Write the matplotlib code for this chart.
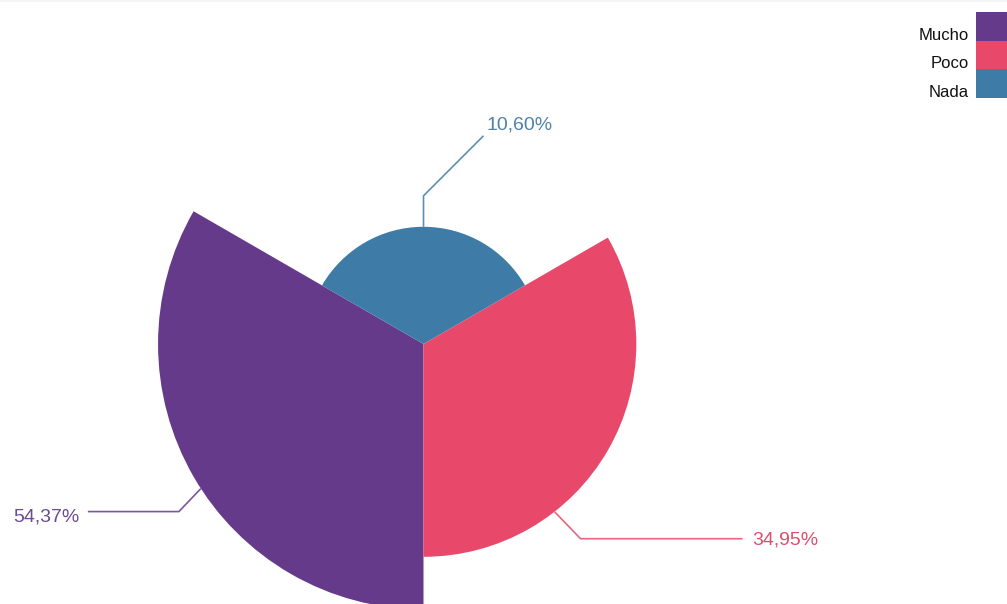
import numpy as np
import matplotlib
matplotlib.use("Agg")
import matplotlib.pyplot as plt
from matplotlib.patches import Wedge, Rectangle

# Data
categories = ["Mucho", "Poco", "Nada"]
values = [54.37, 34.95, 10.60]
labels = ["54,37%", "34,95%", "10,60%"]
colors = ["#663a8b", "#e8496a", "#3e7ba7"]
text_colors = ["#6a4a90", "#d9506e", "#4f82aa"]

plt.rcParams["font.family"] = ["Liberation Sans", "DejaVu Sans"]

W, H = 1007, 604
fig = plt.figure(figsize=(W / 100, H / 100), dpi=100)
ax = fig.add_axes([0, 0, 1, 1])
ax.set_xlim(0, W)
ax.set_ylim(0, H)
ax.set_aspect("equal")
ax.axis("off")

# Rose chart: equal angles, area proportional to value
cx, cy = 423.5, H - 344
k = 36.0
# compass-style sector starts (clockwise from north), each sector spans 120 degrees
starts = {"Nada": -60, "Poco": 60, "Mucho": 180}
span = 360 / len(values)

def to_math(compass):
    return 90 - compass

for cat, v, col in zip(categories, values, colors):
    r = k * np.sqrt(v)
    a0 = starts[cat]
    a1 = a0 + span
    ax.add_patch(Wedge((cx, cy), r, to_math(a1), to_math(a0),
                       facecolor=col, edgecolor="none", zorder=2))

# Label leader lines: anchor angle on the arc, elbow and end offsets,
# text alignment and baseline offset from the line end
leader = {
    "Nada": (0, [(0, 31), (60, 91)], "left", (3, 6)),
    "Poco": (142, [(26, -27), (188, -27)], "left", (10, -6)),
    "Mucho": (237, [(-22, -23), (-113, -23)], "right", (-8, -10)),
}

for cat, v, col, lab, tcol in zip(categories, values, colors, labels, text_colors):
    r = k * np.sqrt(v)
    ang, pts, ha, toff = leader[cat]
    th = np.deg2rad(to_math(ang))
    x0, y0 = cx + r * np.cos(th), cy + r * np.sin(th)
    xs = [x0] + [x0 + dx for dx, dy in pts]
    ys = [y0] + [y0 + dy for dx, dy in pts]
    ax.plot(xs, ys, color=col, lw=1.2, alpha=0.85, zorder=3,
            solid_capstyle="butt")
    ax.text(xs[-1] + toff[0], ys[-1] + toff[1], lab, ha=ha, va="baseline",
            color=tcol, fontsize=14, zorder=4)

# Legend at top right
leg_top = H - 12
row_h = 28.5
for i, (cat, col) in enumerate(zip(categories, colors)):
    y_top = leg_top - i * row_h
    ax.add_patch(Rectangle((976, y_top - row_h), 40, row_h,
                           facecolor=col, edgecolor="none", clip_on=True))
    ax.text(969, y_top - row_h + 0.5, cat, ha="right", va="baseline",
            color="#111111", fontsize=12)

# Faint top border
ax.axhline(H - 0.5, color="#f5f5f5", lw=1.5)

fig.savefig("out.png", dpi=100, facecolor="white")
